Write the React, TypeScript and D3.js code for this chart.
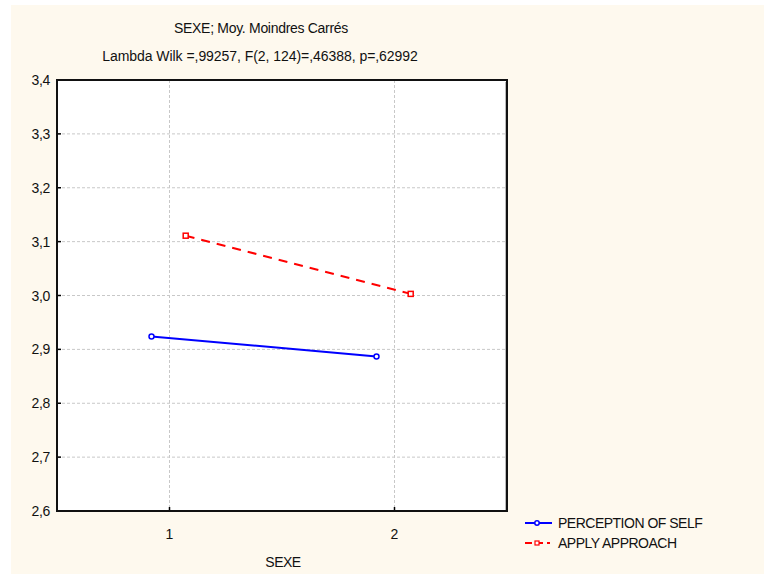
import React from 'react';
import * as d3 from 'd3';

const groups = [1, 2];
const perceptionSelf = [2.924, 2.887];
const applyApproach = [3.111, 3.003];
const yTicks = [2.6, 2.7, 2.8, 2.9, 3.0, 3.1, 3.2, 3.3, 3.4];
const seriesNames = ['PERCEPTION OF SELF', 'APPLY APPROACH'];
const title1 = 'SEXE; Moy. Moindres Carrés';
const title2 = 'Lambda Wilk =,99257, F(2, 124)=,46388, p=,62992';

const App = () => {
  const width = 764;
  const height = 574;
  const plot = { left: 57, right: 507, top: 80, bottom: 511 };
  const font = '"Liberation Sans", Arial, sans-serif';

  const x = d3.scaleLinear().domain([0.5, 2.5]).range([plot.left, plot.right]);
  const y = d3.scaleLinear().domain([2.6, 3.4]).range([plot.bottom, plot.top]);
  const fmt = (v: number) => v.toFixed(1).replace('.', ',');

  const blueOffset = -0.08;
  const redOffset = 0.072;
  const line = d3.line<[number, number]>().x(d => d[0]).y(d => d[1]);
  const bluePts: [number, number][] = groups.map((g, i) => [x(g + blueOffset), y(perceptionSelf[i])]);
  const redPts: [number, number][] = groups.map((g, i) => [x(g + redOffset), y(applyApproach[i])]);

  return (
    <svg width={width} height={height} style={{ position: 'absolute', left: 0, top: 0 }}>
      <rect x={11} y={5} width={width - 11} height={height - 5} fill="#fef9ee" />
      <text x={261} y={33} textAnchor="middle" fontFamily={font} fontSize={14} letterSpacing={-0.3} fill="#111">{title1}</text>
      <text x={260} y={61} textAnchor="middle" fontFamily={font} fontSize={14} letterSpacing={-0.05} fill="#111">{title2}</text>

      <rect x={plot.left} y={plot.top} width={plot.right - plot.left} height={plot.bottom - plot.top} fill="#fff" />

      {yTicks.slice(1, -1).map(t => (
        <line key={'gy' + t} x1={plot.left} x2={plot.right} y1={y(t)} y2={y(t)} stroke="#c8c8c8" strokeDasharray="3,2" />
      ))}
      {groups.map(g => (
        <line key={'gx' + g} x1={x(g)} x2={x(g)} y1={plot.top} y2={plot.bottom} stroke="#c8c8c8" strokeDasharray="3,2" />
      ))}

      {yTicks.map(t => (
        <g key={'ty' + t}>
          <line x1={plot.left} x2={plot.left + 4} y1={y(t)} y2={y(t)} stroke="#000" strokeWidth={1.5} />
          <text x={50} y={y(t) + 5} textAnchor="end" fontFamily={font} fontSize={14} letterSpacing={-0.3} fill="#111">{fmt(t)}</text>
        </g>
      ))}
      {groups.map(g => (
        <g key={'tx' + g}>
          <line x1={x(g)} x2={x(g)} y1={plot.bottom} y2={plot.bottom - 4} stroke="#000" strokeWidth={1.5} />
          <text x={x(g)} y={539} textAnchor="middle" fontFamily={font} fontSize={14} fill="#111">{g}</text>
        </g>
      ))}

      <line x1={plot.right - 1.5} x2={plot.right - 1.5} y1={plot.top + 2} y2={plot.bottom - 1} stroke="#bbb" strokeWidth={1} />
      <rect x={plot.left} y={plot.top} width={plot.right - plot.left} height={plot.bottom - plot.top} fill="none" stroke="#111" strokeWidth={2} />

      <path d={line(bluePts) || ''} fill="none" stroke="#0000ff" strokeWidth={2} />
      <path d={line(redPts) || ''} fill="none" stroke="#ff0000" strokeWidth={2} strokeDasharray="9,7" />
      {bluePts.map((p, i) => (
        <circle key={'bp' + i} cx={p[0]} cy={p[1]} r={2.5} fill="#fff" stroke="#0000ff" strokeWidth={1.5} />
      ))}
      {redPts.map((p, i) => (
        <rect key={'rp' + i} x={p[0] - 2.5} y={p[1] - 2.5} width={5} height={5} fill="#fff" stroke="#ff0000" strokeWidth={1.5} />
      ))}

      <text x={283} y={567} textAnchor="middle" fontFamily={font} fontSize={14} letterSpacing={-0.5} fill="#111">SEXE</text>

      <g>
        <line x1={525} x2={552} y1={523} y2={523} stroke="#0000ff" strokeWidth={2} />
        <circle cx={537} cy={523} r={2.2} fill="#fff" stroke="#0000ff" strokeWidth={1.5} />
        <text x={558} y={528} fontFamily={font} fontSize={14} letterSpacing={-0.5} fill="#111">{seriesNames[0]}</text>
        <line x1={525} x2={550} y1={543} y2={543} stroke="#ff0000" strokeWidth={2} strokeDasharray="7,4" />
        <rect x={535} y={541} width={4} height={4} fill="#fff" stroke="#ff0000" strokeWidth={1.2} />
        <text x={558} y={548} fontFamily={font} fontSize={14} letterSpacing={-0.5} fill="#111">{seriesNames[1]}</text>
      </g>
    </svg>
  );
};

export default App;
